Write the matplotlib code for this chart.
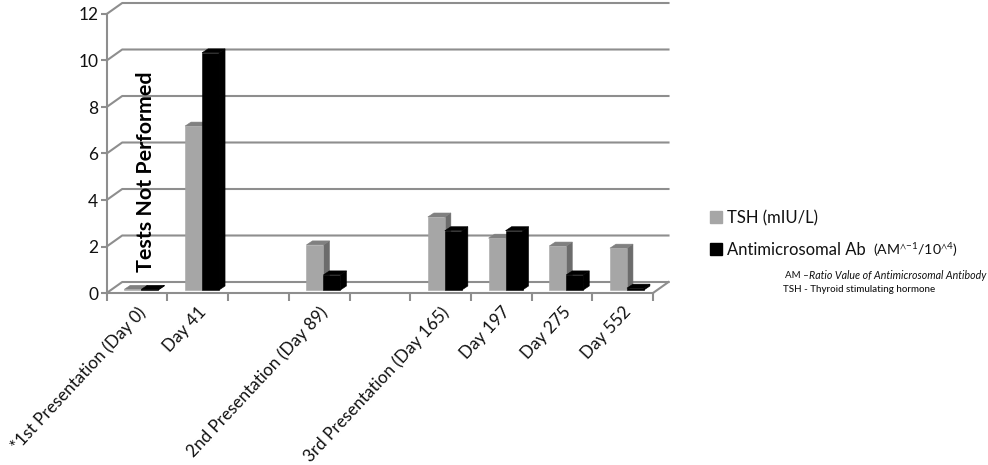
#!/usr/bin/env python3
"""TSH and antimicrosomal antibody values over time, drawn as a faux 3D bar chart."""

import matplotlib
matplotlib.use('Agg')
import matplotlib.pyplot as plt
from matplotlib.patches import Patch

categories = ['*1st Presentation (Day 0)', 'Day 41', '', '2nd Presentation (Day 89)', '',
              '3rd Presentation (Day 165)', 'Day 197', 'Day 275', 'Day 552']
tsh = [0.03, 7.05, None, 1.94, None, 3.14, 2.23, 1.89, 1.8]
antibody = [0.03, 10.2, None, 0.65, None, 2.55, 2.55, 0.65, 0.08]
y_ticks = [0, 2, 4, 6, 8, 10, 12]

FONT = ['Lato', 'DejaVu Sans']
GRID = '#8e8e8e'
W, H = 988, 465

plt.rcParams['font.family'] = FONT
plt.rcParams['mathtext.default'] = 'regular'

# one axes unit in pixels: 60.7 px per category, 23.25 px per y unit
WALL_DX, WALL_DY = 15.5 / 60.7, 11 / 23.25
BAR_DX, BAR_DY = 6 / 60.7, 4 / 23.25
BAR_BASE = 3 / 23.25
BAR_W = 17 / 60.7
BAR_SHIFT = -12.7 / 60.7


def draw_bar(ax, x, value, front, side, top, z):
    """Draw one bar as front, side and top faces."""
    base = BAR_BASE
    height = base + value
    ax.fill([x + BAR_W, x + BAR_W + BAR_DX, x + BAR_W + BAR_DX, x + BAR_W],
            [base, base + BAR_DY, height + BAR_DY, height], color=side, lw=0.4, zorder=z, clip_on=False)
    ax.fill([x, x + BAR_DX, x + BAR_W + BAR_DX, x + BAR_W],
            [height, height + BAR_DY, height + BAR_DY, height], color=top, lw=0.4, zorder=z, clip_on=False)
    ax.fill([x, x + BAR_W, x + BAR_W, x], [base, base, height, height],
            color=front, lw=0.4, zorder=z, clip_on=False)


fig = plt.figure(figsize=(W / 100, H / 100), dpi=100)
ax = fig.add_axes([106.7 / W, (H - 293) / H, 546.3 / W, 279 / H])
ax.set_xlim(0, len(categories))
ax.set_ylim(0, 12)

# back wall lines and the slanted links to the front axis
for v in y_ticks:
    ax.plot([0, WALL_DX, len(categories) + WALL_DX], [v, v + WALL_DY, v + WALL_DY],
            color=GRID, lw=1.5, zorder=1, clip_on=False)
ax.plot([len(categories), len(categories) + WALL_DX], [0, WALL_DY], color=GRID, lw=1.5, zorder=1, clip_on=False)

for i in range(len(categories)):
    if tsh[i] is None:
        continue
    x = i + 0.5 + BAR_SHIFT
    draw_bar(ax, x, tsh[i], '#a6a6a6', '#6c6c6c', '#808080', 3 + i)
    draw_bar(ax, x + BAR_W, antibody[i], '#000000', '#000000', '#000000', 3.5 + i)

ax.text(0.65, 5.2, 'Tests Not Performed', rotation=90, ha='center', va='center',
        fontsize=15.4, fontweight='bold', color='black', zorder=20)

for name in ['top', 'right']:
    ax.spines[name].set_visible(False)
for name in ['left', 'bottom']:
    ax.spines[name].set_color(GRID)
    ax.spines[name].set_linewidth(1.5)

ax.set_yticks(y_ticks)
ax.tick_params(axis='y', length=4, width=1.5, color=GRID, labelsize=12.5, pad=2, labelcolor='#111111')
ax.set_xticks([i + 0.5 for i in range(len(categories))])
ax.set_xticklabels(categories, rotation=47, ha='right', rotation_mode='anchor', fontsize=12.3, color='#111111')
ax.set_xticks(range(len(categories) + 1), minor=True)
ax.tick_params(axis='x', which='major', length=0, pad=8)
ax.tick_params(axis='x', which='minor', length=6, width=1.5, color=GRID)

handles = [Patch(color='#a6a6a6', label='TSH (mIU/L)'),
           Patch(color='#000000', label='Antimicrosomal Ab')]
fig.legend(handles=handles, loc='upper left', bbox_to_anchor=(710 / W, 1 - 210 / H), frameon=False,
           fontsize=12, handlelength=0.72, handleheight=0.75, handletextpad=0.3, labelspacing=0.95,
           borderpad=0, borderaxespad=0, labelcolor='#111111')
# the bracketed unit is set smaller than the legend label in the original
fig.text(873 / W, 1 - 255 / H, r'(AM$^{\wedge{-}1}$/10$^{\wedge 4}$)', fontsize=10.2, color='#111111',
         ha='left', va='baseline')

fig.text(785 / W, 1 - 275 / H, 'AM \u2013', fontsize=7, color='#111111', ha='left', va='center')
fig.text(809 / W, 1 - 275 / H, 'Ratio Value of Antimicrosomal Antibody', fontsize=7.7, style='italic',
         color='#111111', ha='left', va='center')
fig.text(783 / W, 1 - 290 / H, 'TSH - Thyroid stimulating hormone', fontsize=7, color='#111111',
         ha='left', va='center', fontweight='medium')

fig.savefig('out.png', dpi=100)
